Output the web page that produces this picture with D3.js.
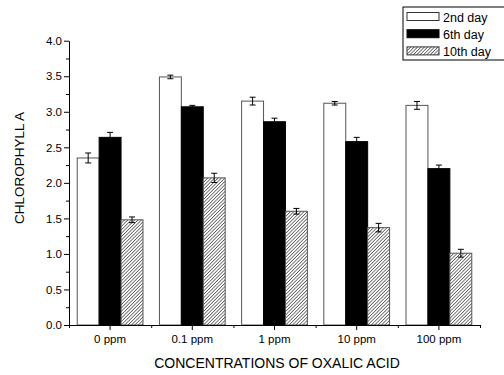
<!DOCTYPE html>
<html>
<head>
<meta charset="utf-8">
<script src="https://cdn.jsdelivr.net/npm/d3@7"></script>
<style>
  body { margin: 0; background: #fff; }
  text { font-family: "Liberation Sans", Arial, sans-serif; fill: #000; }
</style>
</head>
<body>
<svg id="chart" width="504" height="375"></svg>
<script>
const categories = ["0 ppm", "0.1 ppm", "1 ppm", "10 ppm", "100 ppm"];
const seriesNames = ["2nd day", "6th day", "10th day"];
const day2 = [2.35, 3.49, 3.15, 3.12, 3.09];
const day6 = [2.64, 3.07, 2.86, 2.58, 2.20];
const day10 = [1.48, 2.07, 1.60, 1.37, 1.01];
const day2Err = [0.07, 0.025, 0.055, 0.025, 0.055];
const day6Err = [0.07, 0.02, 0.05, 0.06, 0.05];
const day10Err = [0.04, 0.065, 0.04, 0.06, 0.055];
const yTicks = [0, 0.5, 1.0, 1.5, 2.0, 2.5, 3.0, 3.5, 4.0];

const values = [day2, day6, day10];
const errors = [day2Err, day6Err, day10Err];

const svg = d3.select("#chart");
const margin = { left: 69, right: 24, top: 40.7, bottom: 50 };
const width = 480 - margin.left;
const height = 325 - margin.top;

// hatch for the 10th day bars
const defs = svg.append("defs");
const pat = defs.append("pattern")
    .attr("id", "hatch")
    .attr("patternUnits", "userSpaceOnUse")
    .attr("width", 2.4).attr("height", 2.4)
    .attr("patternTransform", "rotate(45)");
pat.append("rect").attr("width", 2.4).attr("height", 2.4).attr("fill", "#fff");
pat.append("line").attr("x1", 0).attr("y1", 0).attr("x2", 0).attr("y2", 2.4)
    .attr("stroke", "#222").attr("stroke-width", 1.2);

const fills = ["#fff", "#000", "url(#hatch)"];

const g = svg.append("g").attr("transform", `translate(${margin.left},${margin.top})`);

const x0 = d3.scaleBand().domain(categories).range([0, width]).padding(0);
const x1 = d3.scaleBand().domain(seriesNames)
    .range([x0.bandwidth() * 0.1, x0.bandwidth() * 0.9]).padding(0);
const y = d3.scaleLinear().domain([0, 4]).range([height, 0]);

// bars
categories.forEach((cat, ci) => {
    const grp = g.append("g").attr("transform", `translate(${x0(cat)},0)`);
    seriesNames.forEach((s, si) => {
        const v = values[si][ci];
        grp.append("rect")
            .attr("x", x1(s))
            .attr("y", y(v))
            .attr("width", x1.bandwidth())
            .attr("height", height - y(v))
            .attr("fill", fills[si])
            .attr("stroke", si === 1 ? "#000" : "#555")
            .attr("stroke-width", 1);
        // error bar
        const cx = x1(s) + x1.bandwidth() / 2;
        const e = errors[si][ci];
        const eb = grp.append("g").attr("stroke", "#000").attr("stroke-width", 1);
        eb.append("line").attr("x1", cx).attr("x2", cx).attr("y1", y(v - e)).attr("y2", y(v + e));
        eb.append("line").attr("x1", cx - 3).attr("x2", cx + 3).attr("y1", y(v - e)).attr("y2", y(v - e));
        eb.append("line").attr("x1", cx - 3).attr("x2", cx + 3).attr("y1", y(v + e)).attr("y2", y(v + e));
    });
});

// y axis
const yAxis = g.append("g")
    .call(d3.axisLeft(y).tickValues(yTicks).tickFormat(d3.format(".1f")).tickSize(5).tickSizeOuter(0).tickPadding(2));
g.append("g")
    .call(d3.axisLeft(y).tickValues(d3.range(0.25, 4, 0.5)).tickFormat("").tickSize(3).tickSizeOuter(0))
    .select(".domain").remove();

// x axis
const xAxis = g.append("g").attr("transform", `translate(0,${height})`)
    .call(d3.axisBottom(x0).tickSize(5).tickSizeOuter(0).tickPadding(5));
g.append("g").attr("transform", `translate(0,${height})`)
    .call(d3.axisBottom(d3.scaleLinear().domain([0, 5]).range([0, width]))
        .tickValues([0, 1, 2, 3, 4, 5]).tickFormat("").tickSize(3).tickSizeOuter(0))
    .select(".domain").remove();

svg.selectAll(".tick text").attr("font-size", 11.5).style("font-family", "Liberation Sans, Arial, sans-serif");
svg.selectAll(".domain, .tick line").attr("stroke", "#000");

// axis titles
svg.append("text")
    .attr("transform", "translate(24,168) rotate(-90)")
    .attr("text-anchor", "middle")
    .attr("font-size", 13.5)
    .text("CHLOROPHYLL A");
svg.append("text")
    .attr("x", 277).attr("y", 368)
    .attr("text-anchor", "middle")
    .attr("font-size", 14)
    .text("CONCENTRATIONS OF OXALIC ACID");

// legend
const leg = svg.append("g").attr("transform", "translate(403,7)");
leg.append("rect").attr("x", 0).attr("y", 0).attr("width", 104).attr("height", 53)
    .attr("fill", "#fff").attr("stroke", "#000").attr("stroke-width", 1);
seriesNames.forEach((s, i) => {
    const row = leg.append("g").attr("transform", `translate(4,${5.5 + i * 17.2})`);
    row.append("rect").attr("width", 32).attr("height", 8)
        .attr("fill", fills[i]).attr("stroke", i === 1 ? "#000" : "#333").attr("stroke-width", 1);
    row.append("text").attr("x", 36).attr("y", 9).attr("font-size", 12.5).text(s);
});
</script>
</body>
</html>
